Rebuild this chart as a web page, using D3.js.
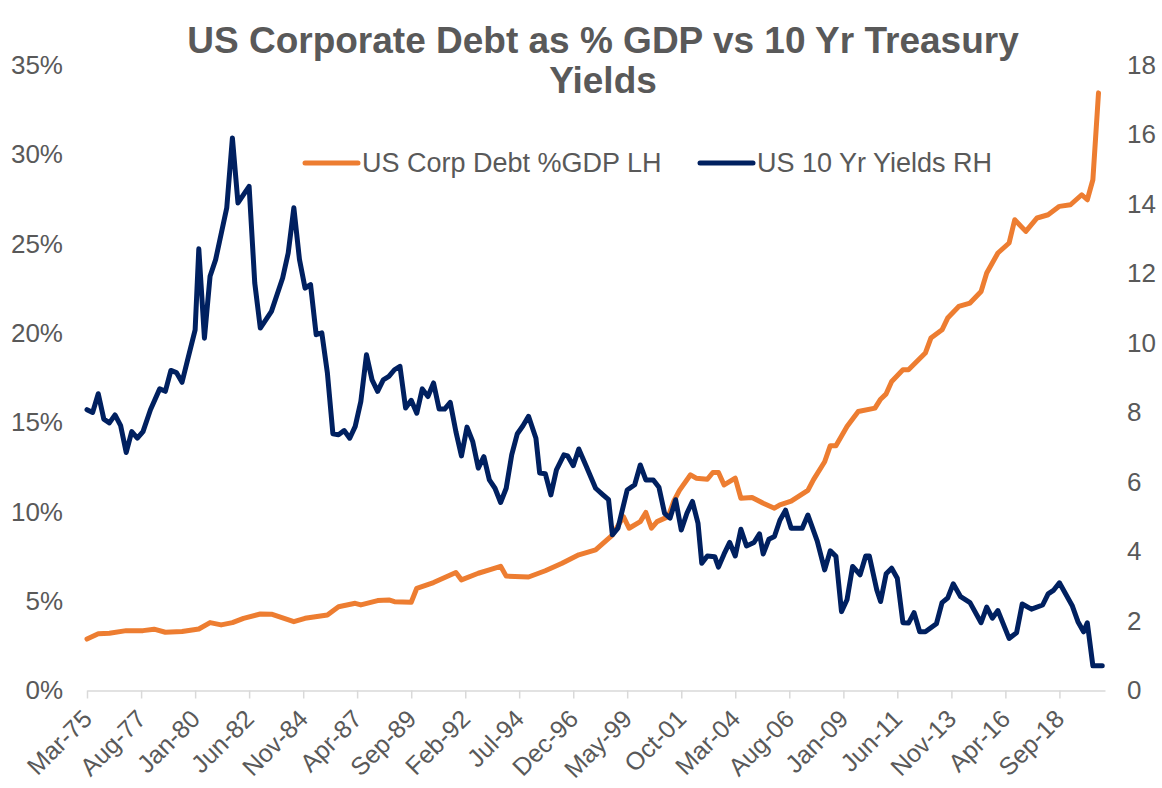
<!DOCTYPE html>
<html>
<head>
<meta charset="utf-8">
<script src="https://cdn.jsdelivr.net/npm/d3@7"></script>
<style>
  body { margin: 0; background: #fff; }
  text { font-family: "Liberation Sans", Arial, sans-serif; fill: #595959; }
</style>
</head>
<body>
<div id="chart"></div>
<script>
// ---- data ----
const xTickLabels = ["Mar-75","Aug-77","Jan-80","Jun-82","Nov-84","Apr-87","Sep-89","Feb-92","Jul-94",
  "Dec-96","May-99","Oct-01","Mar-04","Aug-06","Jan-09","Jun-11","Nov-13","Apr-16","Sep-18"];
const leftTicks = [0, 5, 10, 15, 20, 25, 30, 35];
const rightTicks = [0, 2, 4, 6, 8, 10, 12, 14, 16, 18];
const seriesNames = ["US Corp Debt %GDP LH", "US 10 Yr Yields RH"];

// US corporate debt as % of GDP (left axis)
const debtDates = ["1975-03","1975-09","1976-03","1976-12","1977-09","1978-03","1978-09","1979-06","1980-03","1980-09",
  "1981-03","1981-09","1982-03","1982-12","1983-06","1984-06","1984-12","1985-12","1986-06","1987-03",
  "1987-06","1988-03","1988-09","1988-12","1989-09","1989-12","1990-09","1991-09","1991-12","1992-09",
  "1993-03","1993-09","1993-12","1994-12","1995-09","1996-06","1997-03","1997-12","1998-09","1999-03",
  "1999-06","1999-12","2000-03","2000-06","2000-09","2001-03","2001-06","2001-09","2002-03","2002-06",
  "2002-12","2003-03","2003-06","2003-09","2004-03","2004-06","2004-12","2005-06","2005-12","2006-03",
  "2006-09","2007-06","2007-09","2008-03","2008-06","2008-09","2009-03","2009-09","2010-06","2010-09",
  "2010-12","2011-03","2011-09","2011-12","2012-09","2012-12","2013-06","2013-09","2014-03","2014-09",
  "2015-03","2015-06","2015-12","2016-06","2016-09","2017-03","2017-09","2018-03","2018-09","2019-03",
  "2019-09","2019-12","2020-03","2020-06"];
const debtValues = [2.88,3.17,3.2,3.35,3.35,3.43,3.26,3.3,3.44,3.8,
  3.67,3.8,4.04,4.28,4.27,3.85,4.04,4.23,4.69,4.88,
  4.79,5.03,5.07,4.97,4.94,5.72,6.04,6.6,6.19,6.56,
  6.75,6.95,6.4,6.35,6.7,7.12,7.59,7.87,8.7,9.73,
  9.08,9.45,9.96,9.08,9.45,9.73,10.6,11.2,12.07,11.88,
  11.82,12.2,12.2,11.5,11.88,10.76,10.8,10.48,10.2,10.39,
  10.6,11.2,11.8,12.8,13.7,13.7,14.77,15.61,15.8,16.3,
  16.6,17.29,17.95,17.95,18.88,19.72,20.18,20.84,21.49,21.68,
  22.33,23.36,24.48,25.04,26.34,25.69,26.44,26.62,27.09,27.18,
  27.74,27.46,28.58,33.44];

// US 10 year treasury yield (right axis)
const yieldDates = ["1975-03","1975-06","1975-09","1975-12","1976-03","1976-06","1976-09","1976-12","1977-03","1977-06",
  "1977-09","1978-01","1978-06","1978-09","1978-12","1979-03","1979-06","1979-09","1980-01","1980-03",
  "1980-06","1980-09","1980-12","1981-06","1981-09","1981-12","1982-06","1982-09","1982-12","1983-06",
  "1983-12","1984-03","1984-06","1984-09","1984-12","1985-03","1985-06","1985-09","1985-12","1986-03",
  "1986-06","1986-09","1986-12","1987-03","1987-06","1987-09","1987-12","1988-03","1988-06","1988-09",
  "1988-12","1989-03","1989-06","1989-09","1989-12","1990-03","1990-06","1990-09","1990-12","1991-03",
  "1991-06","1991-09","1991-12","1992-03","1992-06","1992-09","1992-12","1993-03","1993-06","1993-09",
  "1993-12","1994-03","1994-06","1994-09","1994-12","1995-04","1995-06","1995-09","1995-12","1996-03",
  "1996-07","1996-09","1996-12","1997-03","1997-07","1997-12","1998-04","1998-07","1998-09","1998-12",
  "1999-05","1999-09","1999-12","2000-03","2000-07","2000-10","2001-01","2001-04","2001-07","2001-10",
  "2002-01","2002-04","2002-07","2002-09","2002-12","2003-04","2003-06","2003-09","2003-12","2004-03",
  "2004-06","2004-09","2005-01","2005-04","2005-06","2005-09","2005-12","2006-03","2006-06","2006-09",
  "2007-03","2007-06","2007-11","2008-03","2008-06","2008-09","2008-12","2009-03","2009-06","2009-10",
  "2010-01","2010-03","2010-07","2010-09","2010-12","2011-03","2011-06","2011-09","2011-12","2012-03",
  "2012-06","2012-09","2013-03","2013-06","2013-09","2013-12","2014-04","2014-09","2015-03","2015-06",
  "2015-09","2015-12","2016-06","2016-10","2017-01","2017-06","2017-12","2018-03","2018-06","2018-09",
  "2019-04","2019-07","2019-10","2019-12","2020-03","2020-08"];
const yieldValues = [8.08,8.0,8.54,7.81,7.7,7.93,7.62,6.85,7.45,7.26,
  7.45,8.08,8.68,8.61,9.21,9.15,8.87,9.52,10.38,12.71,
  10.14,11.92,12.4,13.89,15.9,14.03,14.51,11.73,10.43,10.91,
  11.87,12.59,13.89,12.4,11.58,11.68,10.24,10.29,9.14,7.39,
  7.36,7.48,7.26,7.6,8.32,9.66,8.94,8.61,8.94,9.04,
  9.23,9.33,8.13,8.35,7.98,8.68,8.46,8.85,8.1,8.1,
  8.29,7.45,6.75,7.58,7.17,6.4,6.73,6.06,5.82,5.41,
  5.82,6.78,7.39,7.62,7.89,7.26,6.26,6.24,5.63,6.35,
  6.78,6.75,6.47,6.95,6.45,5.82,5.63,5.49,4.48,4.67,
  5.77,5.92,6.49,6.06,6.06,5.85,5.1,4.96,5.49,4.62,
  5.1,5.44,4.82,3.66,3.87,3.85,3.55,3.93,4.26,3.87,
  4.64,4.16,4.26,4.51,3.93,4.35,4.43,4.9,5.19,4.67,
  4.67,5.05,4.3,3.47,4.02,3.86,2.27,2.61,3.57,3.33,
  3.87,3.87,2.89,2.56,3.36,3.52,3.23,1.95,1.94,2.24,
  1.69,1.69,1.92,2.53,2.66,3.07,2.7,2.53,1.95,2.4,
  2.08,2.3,1.5,1.66,2.49,2.34,2.46,2.78,2.89,3.1,
  2.43,1.98,1.69,1.95,0.71,0.71];

// ---- chart ----
const width = 1162, height = 788;
const padLeft = 87, padRight = 1105, plotTop = 65, plotBottom = 690.5;
const orange = "#ED7D31", navy = "#002060", axisGrey = "#D9D9D9";

const parseMonth = d3.timeParse("%Y-%m");
const parseTick = d3.timeParse("%b-%y");

const debt = debtDates.map((d, i) => ({date: parseMonth(d), v: debtValues[i]}));
const yields = yieldDates.map((d, i) => ({date: parseMonth(d), v: yieldValues[i]}));
const tickDates = xTickLabels.map(parseTick);

const x = d3.scaleTime().domain([parseMonth("1975-03"), new Date(2020, 8, 15)]).range([padLeft, padRight]);
const yL = d3.scaleLinear().domain([0, 35]).range([plotBottom, plotTop]);
const yR = d3.scaleLinear().domain([0, 18]).range([plotBottom, plotTop]);

const svg = d3.select("#chart").append("svg").attr("width", width).attr("height", height);

// title
const title = svg.append("text").attr("text-anchor", "middle").attr("font-weight", "bold")
  .style("font-size", "37px");
title.append("tspan").attr("x", 603).attr("y", 53).text("US Corporate Debt as % GDP vs 10 Yr Treasury");
title.append("tspan").attr("x", 603).attr("y", 93).text("Yields");

// x axis
const xAxis = d3.axisBottom(x).tickValues(tickDates).tickFormat(d3.timeFormat("%b-%y")).tickSize(8).tickSizeOuter(0);
const gx = svg.append("g").attr("transform", "translate(0," + plotBottom + ")").call(xAxis);
gx.select(".domain").attr("stroke", axisGrey).attr("stroke-width", 1.5);
gx.selectAll(".tick line").attr("stroke", axisGrey).attr("stroke-width", 1.5);
gx.selectAll(".tick text")
  .style("font-size", "25px").attr("fill", "#595959")
  .attr("text-anchor", "end")
  .attr("x", 0).attr("y", 0).attr("dy", 0)
  .attr("transform", "translate(6,30) rotate(-45)");

// left axis
const gl = svg.append("g").attr("transform", "translate(" + padLeft + ",0)")
  .call(d3.axisLeft(yL).tickValues(leftTicks).tickFormat(d => d + "%").tickSize(0).tickPadding(24));
gl.select(".domain").remove();
gl.selectAll(".tick text").style("font-size", "26px").attr("fill", "#595959");

// right axis
const gr = svg.append("g").attr("transform", "translate(" + padRight + ",0)")
  .call(d3.axisRight(yR).tickValues(rightTicks).tickSize(0).tickPadding(22));
gr.select(".domain").remove();
gr.selectAll(".tick text").style("font-size", "26px").attr("fill", "#595959");

// lines
const lineL = d3.line().x(d => x(d.date)).y(d => yL(d.v));
const lineR = d3.line().x(d => x(d.date)).y(d => yR(d.v));

svg.append("path").datum(debt).attr("d", lineL)
  .attr("fill", "none").attr("stroke", orange).attr("stroke-width", 5)
  .attr("stroke-linejoin", "round").attr("stroke-linecap", "round");
svg.append("path").datum(yields).attr("d", lineR)
  .attr("fill", "none").attr("stroke", navy).attr("stroke-width", 5)
  .attr("stroke-linejoin", "round").attr("stroke-linecap", "round");

// legend
const legend = [{name: seriesNames[0], color: orange, x: 305}, {name: seriesNames[1], color: navy, x: 700}];
const lg = svg.selectAll(".legend").data(legend).enter().append("g").attr("class", "legend")
  .attr("transform", d => "translate(" + d.x + ",163)");
lg.append("line").attr("x1", 0).attr("x2", 53).attr("y1", 0).attr("y2", 0)
  .attr("stroke", d => d.color).attr("stroke-width", 5).attr("stroke-linecap", "round");
lg.append("text").attr("x", 57).attr("dy", "0.35em").style("font-size", "27px").text(d => d.name);
</script>
</body>
</html>
